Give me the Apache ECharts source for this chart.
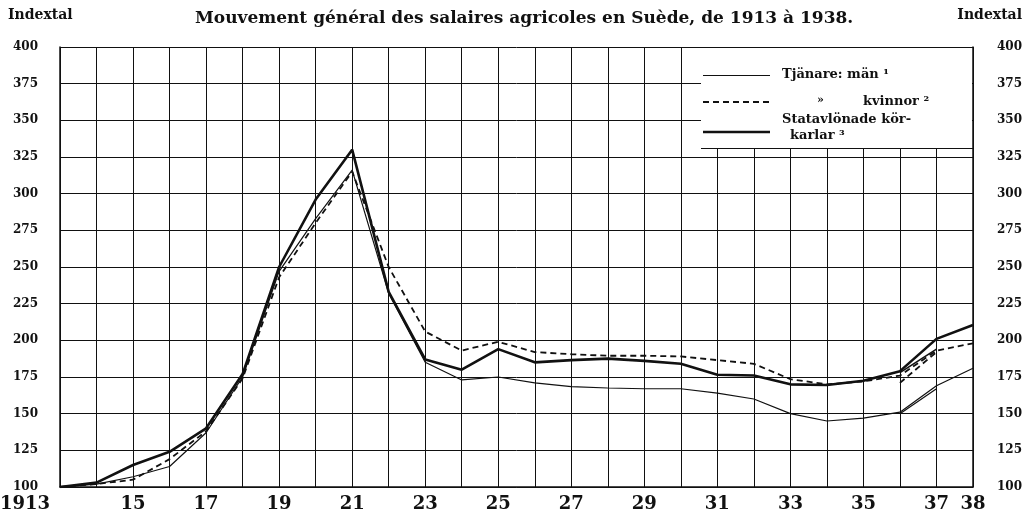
<!DOCTYPE html>
<html>
<head>
<meta charset="utf-8">
<script src="https://cdn.jsdelivr.net/npm/echarts@6/dist/echarts.min.js"></script>
<style>
body{margin:0;background:#fff;}
#chart{width:1023px;height:528px;}
</style>
</head>
<body>
<div id="chart"></div>
<script>
// år 1913 - 1938
var years = ['1913','1914','1915','1916','1917','1918','1919','1920','1921','1922','1923','1924','1925',
  '1926','1927','1928','1929','1930','1931','1932','1933','1934','1935','1936','1937','1938'];
// Tjänare: män
var man = [100,102,107,114,137,175,247,283,316,232,185,173,175,171,168.5,167.5,167,167,164,160,150,145,147,151,169,181];
// Tjänare: kvinnor
var kvinnor = [100,102,105,119,138,174,243,280,315,250,206,193,199,192,190.5,189.5,189.5,189,186.5,184,173.5,170,172,176,193,198];
// Statavlönade körkarlar
var statare = [100,103,115,124,140,177,250,296,330,233,187,180,194,185,186.5,187.5,186,184,176.5,176,170,169.5,172.5,179,201,210.5];
// dubbla linjer 1936-1937 (ny serie)
var manNy = [null,null,null,null,null,null,null,null,null,null,null,null,null,null,null,null,null,null,null,null,null,null,null,150,167,null];
var kvinnorNy = [null,null,null,null,null,null,null,null,null,null,null,null,null,null,null,null,null,null,null,null,null,null,null,171,192,null];
var statareNy = [null,null,null,null,null,null,null,null,null,null,null,null,null,null,null,null,null,null,null,null,null,null,null,178,194,null];
var yTicks = [100,125,150,175,200,225,250,275,300,325,350,375,400];

var font = "'DejaVu Serif', serif";
var chart = echarts.init(document.getElementById('chart'));

// teckenförklaring ritas ovanpå rutnätet
var legendItems = [
  { type: 'rect', shape: { x: 701, y: 48, width: 271, height: 100 }, style: { fill: '#fff' } },
  { type: 'line', shape: { x1: 701, y1: 148.5, x2: 973, y2: 148.5 }, style: { stroke: '#111', lineWidth: 1.2 } },
  { type: 'line', shape: { x1: 703, y1: 75.5, x2: 770, y2: 75.5 }, style: { stroke: '#111', lineWidth: 1.2 } },
  { type: 'text', x: 782, y: 68,
    style: { text: 'Tjänare: män ¹', fontFamily: font, fontWeight: 'bold', fontSize: 13, fill: '#111' } },
  { type: 'line', shape: { x1: 703, y1: 102, x2: 770, y2: 102 }, style: { stroke: '#111', lineWidth: 1.8, lineDash: [6, 4] } },
  { type: 'text', x: 817, y: 95,
    style: { text: '»', fontFamily: font, fontWeight: 'bold', fontSize: 11, fill: '#111' } },
  { type: 'text', x: 863, y: 95,
    style: { text: 'kvinnor ²', fontFamily: font, fontWeight: 'bold', fontSize: 13, fill: '#111' } },
  { type: 'line', shape: { x1: 703, y1: 132, x2: 770, y2: 132 }, style: { stroke: '#111', lineWidth: 2.6 } },
  { type: 'text', x: 782, y: 113,
    style: { text: 'Statavlönade kör-', fontFamily: font, fontWeight: 'bold', fontSize: 13, fill: '#111' } },
  { type: 'text', x: 790, y: 129,
    style: { text: 'karlar ³', fontFamily: font, fontWeight: 'bold', fontSize: 13, fill: '#111' } }
];
legendItems.forEach(function (el, i) { el.z = 100 + i; });

var option = {
  animation: false,
  backgroundColor: '#fff',
  title: {
    text: 'Mouvement général des salaires agricoles en Suède, de 1913 à 1938.',
    left: 190,
    top: 5,
    textStyle: { fontFamily: font, fontWeight: 'bold', fontSize: 17, color: '#111' }
  },
  grid: { left: 60, right: 50, top: 47, bottom: 41, outerBoundsMode: 'none', containLabel: false },
  xAxis: {
    type: 'category',
    data: years,
    boundaryGap: false,
    axisLine: { lineStyle: { color: '#111', width: 1.5 } },
    axisTick: { show: false },
    splitLine: { show: true, interval: 0, lineStyle: { color: '#111', width: 1 } },
    axisLabel: {
      interval: function (i) { return i % 2 === 0 || i === years.length - 1; },
      margin: 8,
      color: '#111',
      fontFamily: font,
      fontWeight: 'bold',
      fontSize: 18,
      formatter: function (v, i) {
        if (i === 0) return '{first|' + v + '}';
        return v.slice(2);
      },
      rich: {
        first: { fontFamily: font, fontWeight: 'bold', fontSize: 18, color: '#111', padding: [0, 70, 0, 0] }
      }
    }
  },
  yAxis: [{
    type: 'value',
    min: yTicks[0],
    max: yTicks[yTicks.length - 1],
    interval: 25,
    axisLine: { show: true, lineStyle: { color: '#111', width: 1.5 } },
    axisTick: { show: false },
    splitLine: { lineStyle: { color: '#111', width: 1 } },
    axisLabel: { margin: 22, color: '#111', fontFamily: font, fontWeight: 'bold', fontSize: 12 }
  }, {
    type: 'value',
    position: 'right',
    min: yTicks[0],
    max: yTicks[yTicks.length - 1],
    interval: 25,
    axisLine: { show: true, lineStyle: { color: '#111', width: 1.5 } },
    axisTick: { show: false },
    splitLine: { show: false },
    axisLabel: { margin: 24, align: 'left', color: '#111', fontFamily: font, fontWeight: 'bold', fontSize: 12 }
  }],
  series: [
    { name: 'Tjänare: män', type: 'line', data: man, symbol: 'none',
      lineStyle: { color: '#111', width: 1.2 } },
    { name: 'kvinnor', type: 'line', data: kvinnor, symbol: 'none',
      lineStyle: { color: '#111', width: 1.8, type: [6, 4] } },
    { name: 'Statavlönade körkarlar', type: 'line', data: statare, symbol: 'none',
      lineStyle: { color: '#111', width: 2.6 } },
    { name: 'män ny', type: 'line', data: manNy, symbol: 'none',
      lineStyle: { color: '#111', width: 1.2 } },
    { name: 'kvinnor ny', type: 'line', data: kvinnorNy, symbol: 'none',
      lineStyle: { color: '#111', width: 1.8, type: [6, 4] } },
    { name: 'statare ny', type: 'line', data: statareNy, symbol: 'none',
      lineStyle: { color: '#111', width: 1.6 } }
  ],
  graphic: [
    { type: 'text', left: 8, top: 8,
      style: { text: 'Indextal', fontFamily: font, fontWeight: 'bold', fontSize: 14, fill: '#111' } },
    { type: 'text', right: 1, top: 8,
      style: { text: 'Indextal', fontFamily: font, fontWeight: 'bold', fontSize: 14, fill: '#111' } },
    { type: 'group', children: legendItems }
  ]
};
chart.setOption(option);
</script>
</body>
</html>
